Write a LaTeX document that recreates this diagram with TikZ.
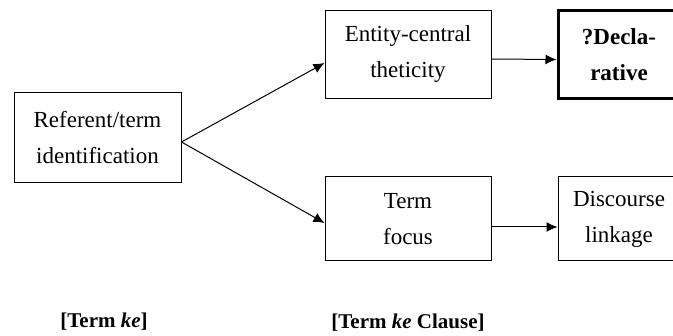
\documentclass[tikz,border=0pt]{standalone}
\usepackage{fontspec}
\setmainfont{Liberation Serif}
\usepackage{tikz}
\usetikzlibrary{arrows.meta}
\usetikzlibrary{positioning}
\tikzset{box/.style = {draw, line width=1pt, align=center, inner sep=0pt,
                       minimum width=166pt, minimum height=88pt,
                       font=\fontsize{23}{36}\selectfont},
         thickbox/.style = {box, line width=3pt, font=\fontsize{23}{36}\selectfont\bfseries},
         lbl/.style = {font=\fontsize{21}{26}\selectfont\bfseries},
         arr/.style = {line width=1pt, -{Latex[length=11pt,width=10pt]}}}

\begin{document}
\begin{tikzpicture}[x=1pt, y=-1pt]
      \useasboundingbox (0, 0) rectangle (673, 336);

      \node [box, minimum width=167pt, minimum height=90pt] (ref) at (97.5, 138) {Referent/term\\identification};
      \node [box] (ect) at (408, 54.5) {Entity-central\\theticity};
      \node [box, minimum height=84pt] (tf) at (408, 219) {Term\\focus};
      \node [thickbox, minimum width=122pt] (decl) at (619, 55) {?Decla-\\rative};
      \node [box, minimum width=122pt, minimum height=84pt] (disc) at (619, 219) {Discourse\\linkage};

      \node [lbl] (tke) at (104, 322) {[Term \textit{ke}]};
      \node [lbl] (tkc) at (408, 323) {[Term \textit{ke} Clause]};

      \draw [arr] ([yshift=-4pt]ref.east) -- ([yshift=-8.5pt]ect.west);
      \draw [arr] ([yshift=-4pt]ref.east) -- ([yshift=-4pt]tf.west);
      \draw [arr] ([yshift=-4.5pt]ect.east) -- ([yshift=-4.5pt]decl.west);
      \draw [arr] ([yshift=-8pt]tf.east) -- ([yshift=-8pt]disc.west);
    \end{tikzpicture}
\end{document}
